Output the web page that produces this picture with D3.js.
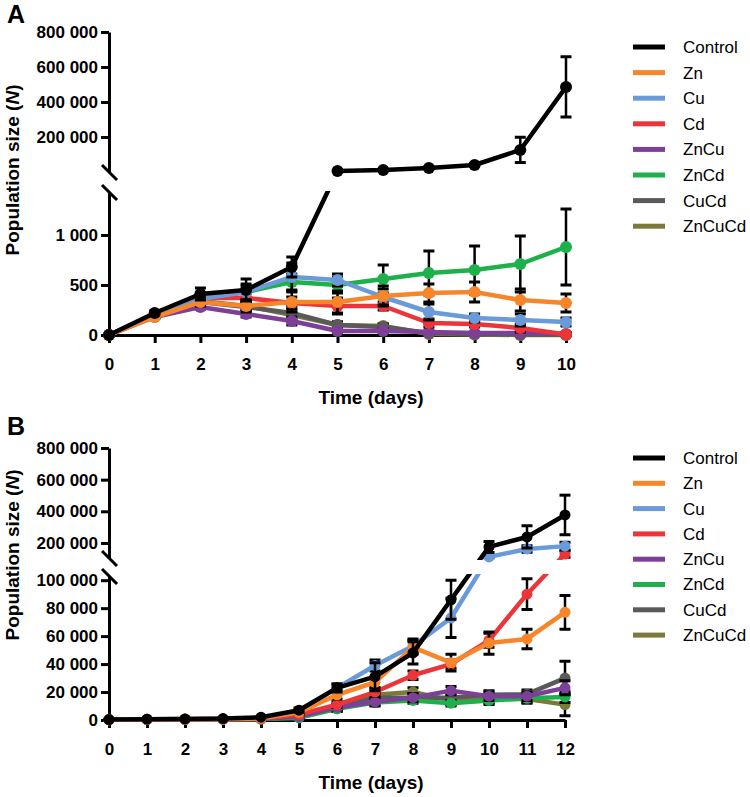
<!DOCTYPE html>
<html><head><meta charset="utf-8">
<script src="https://cdn.jsdelivr.net/npm/d3@7"></script>
<style>body{margin:0;background:#fff}svg{display:block}</style>
</head><body><svg id="c" width="750" height="797"></svg>
<script>
// ---------- DATA ----------
const seriesNames = ["Control","Zn","Cu","Cd","ZnCu","ZnCd","CuCd","ZnCuCd"];
const seriesColors = ["#000000","#F7862A","#6A9BD8","#EC3539","#7E3F98","#1DB04B","#5A5A5A","#7A7B3A"];

const daysA = [0,1,2,3,4,5,6,7,8,9,10];
const controlA = [0,220,410,450,680,6000,11000,23000,40000,126000,486000];
const znA      = [0,180,330,290,330,330,390,420,430,350,320];
const cuA      = [0,200,360,430,580,550,380,230,170,150,130];
const cdA      = [0,190,370,370,320,290,290,120,110,70,5];
const znCuA    = [0,180,280,210,140,40,40,30,20,20,10];
const znCdA    = [0,200,360,430,530,500,560,620,650,710,880];
const cuCdA    = [0,200,330,280,220,100,80,20,10,5,5];
const znCuCdA  = [0,200,340,290,200,100,90,10,5,0,0];

const errControlA = [0,20,60,110,100,3000,4000,5000,6000,72000,172000];
const errZnA      = [0,15,40,60,100,110,100,90,100,110,90];
const errCuA      = [0,20,40,80,140,60,80,80,40,60,40];
const errCdA      = [0,10,30,50,60,80,40,40,30,40,20];
const errZnCuA    = [0,10,20,30,40,20,20,10,10,10,5];
const errZnCdA    = [0,20,40,60,80,80,140,220,240,280,380];
const errCuCdA    = [0,10,30,40,70,30,30,10,10,5,5];
const errZnCuCdA  = [0,10,30,40,60,30,20,10,5,0,0];

const daysB = [0,1,2,3,4,5,6,7,8,9,10,11,12];
const controlB = [300,600,800,1000,2000,7000,23000,31000,48000,86000,175000,238000,377000];
const znB      = [300,500,700,800,1200,5500,18000,27000,52000,41000,55000,58000,77000];
const cuB      = [300,500,700,800,1300,6000,23000,39000,53000,73000,112000,162000,180000];
const cdB      = [300,500,600,700,900,4000,11000,20000,32000,40000,57000,90000,130000];
const znCuB    = [200,400,500,600,800,2500,9000,13000,16000,21000,17000,17000,23000];
const znCdB    = [200,400,500,600,700,1500,8000,12500,14000,12000,14000,15500,16500];
const cuCdB    = [200,400,500,600,800,2500,9000,16000,16000,16000,18000,18500,30000];
const znCuCdB  = [200,400,500,600,800,2500,8000,18000,20000,14000,15000,15000,11000];

const errControlB = [100,100,200,200,300,1500,3000,10000,8000,14000,35000,70000,125000];
const errZnB      = [0,0,0,0,200,1000,3000,4000,5000,6000,8000,7000,12000];
const errCuB      = [0,0,0,0,200,1000,2000,4000,5000,14000,6000,20000,25000];
const errCdB      = [0,0,0,0,100,800,2000,3000,3000,3000,5000,11000,20000];
const errZnCuB    = [0,0,0,0,100,500,2000,3000,3000,3000,3000,3000,5000];
const errZnCdB    = [0,0,0,0,100,500,2000,2000,2000,2000,3000,3000,4000];
const errCuCdB    = [0,0,0,0,100,500,2000,3000,3000,3000,3000,3000,12000];
const errZnCuCdB  = [0,0,0,0,100,500,2000,3000,3000,3000,3000,3000,8000];

const yTicksLowA = [0,500,1000];
const yTicksHighA = [200000,400000,600000,800000];
const yTicksLowB = [0,20000,40000,60000,80000,100000];
const yTicksHighB = [200000,400000,600000,800000];

// ---------- DRAW ----------
const svg = d3.select("#c");
const fmt = v => d3.format(",")(v).replace(/,/g, " ");
const FONT = "'Liberation Sans', Arial, Helvetica, sans-serif";

function drawPanel(cfg){
  const g = svg.append("g");
  const x = d3.scaleLinear().domain([0, d3.max(cfg.days)]).range(cfg.xRange);
  const yLow = d3.scaleLinear().domain(cfg.lowDomain).range(cfg.lowRange);
  const yHigh = d3.scaleLinear().domain(cfg.highDomain).range(cfg.highRange);
  const ymap = v => v <= cfg.lowDomain[1] ? yLow(v) : yHigh(v);

  const clipId = "clip" + cfg.id;
  const cp = svg.append("defs").append("clipPath").attr("id", clipId);
  cp.append("rect").attr("x",0).attr("y",0).attr("width",750).attr("height",cfg.gap[0]);
  cp.append("rect").attr("x",0).attr("y",cfg.gap[1]).attr("width",750).attr("height",797-cfg.gap[1]);

  // axes
  const axStyle = sel => {
    sel.selectAll("path.domain").attr("stroke","#000").attr("stroke-width",3);
    sel.selectAll(".tick line").attr("stroke","#000").attr("stroke-width",3);
    sel.selectAll(".tick text").attr("fill","#000").style("font-family",FONT)
      .style("font-size","17px").style("font-weight","bold");
  };
  const x0 = cfg.xRange[0];
  g.append("g").attr("transform",`translate(${x0},0)`)
    .call(d3.axisLeft(yLow).tickValues(cfg.lowTicks).tickFormat(fmt).tickSize(8).tickSizeOuter(0).tickPadding(3))
    .call(axStyle);
  g.append("g").attr("transform",`translate(${x0},0)`)
    .call(d3.axisLeft(yHigh).tickValues(cfg.highTicks).tickFormat(fmt).tickSize(8).tickSizeOuter(0).tickPadding(3))
    .call(axStyle);
  g.append("g").attr("transform",`translate(0,${cfg.lowRange[0]})`)
    .call(d3.axisBottom(x).tickValues(cfg.days).tickFormat(d3.format("d")).tickSize(8).tickSizeOuter(0).tickPadding(15))
    .call(axStyle);

  // break slashes
  [cfg.highRange[0], cfg.lowRange[1]].forEach(yy => {
    g.append("line").attr("x1",x0-7).attr("y1",yy-7).attr("x2",x0+8).attr("y2",yy+8)
      .attr("stroke","#000").attr("stroke-width",3);
  });

  // series (drawn last legend entry first)
  for (let i = cfg.series.length - 1; i >= 0; i--) {
    const vals = cfg.series[i], errs = cfg.errors[i], col = seriesColors[i];
    const pts = cfg.days.map((d,k) => ({d, v: vals[k], e: errs[k]}));
    const sg = g.append("g");
    const cg = sg.append("g").attr("clip-path", `url(#${clipId})`);
    pts.filter(p => p.e > 0).forEach(p => {
      const xx = x(p.d), yt = ymap(p.v + p.e), yb = ymap(Math.max(0, p.v - p.e));
      cg.append("line").attr("x1",xx).attr("x2",xx).attr("y1",yt).attr("y2",yb)
        .attr("stroke","#000").attr("stroke-width",2.5);
      [yt,yb].forEach(yy => cg.append("line").attr("x1",xx-5.5).attr("x2",xx+5.5)
        .attr("y1",yy).attr("y2",yy).attr("stroke","#000").attr("stroke-width",3));
    });
    cg.append("path").datum(pts)
      .attr("d", d3.line().x(p => x(p.d)).y(p => ymap(p.v)))
      .attr("fill","none").attr("stroke",col).attr("stroke-width",4.5).attr("stroke-linejoin","round");
    sg.selectAll("circle").data(pts).join("circle")
      .attr("cx", p => x(p.d)).attr("cy", p => ymap(p.v)).attr("r", cfg.r).attr("fill", col);
  }

  // titles
  g.append("text").attr("x", cfg.xTitle[0]).attr("y", cfg.xTitle[1]).attr("text-anchor","middle")
    .style("font-family",FONT).style("font-size","19px").style("font-weight","bold").text("Time (days)");
  const yt = g.append("text").attr("transform",`translate(${cfg.yTitle[0]},${cfg.yTitle[1]}) rotate(-90)`)
    .attr("text-anchor","middle").style("font-family",FONT).style("font-size","19px").style("font-weight","bold");
  yt.append("tspan").text("Population size (");
  yt.append("tspan").style("font-style","italic").text("N");
  yt.append("tspan").text(")");
  g.append("text").attr("x", cfg.letter[0]).attr("y", cfg.letter[1])
    .style("font-family",FONT).style("font-size","25px").style("font-weight","bold").text(cfg.id);

  // legend
  const lg = g.append("g");
  seriesNames.forEach((n,i) => {
    const yy = cfg.legendY + i * cfg.legendStep;
    lg.append("line").attr("x1",633).attr("x2",665).attr("y1",yy).attr("y2",yy)
      .attr("stroke",seriesColors[i]).attr("stroke-width",5);
    lg.append("text").attr("x",683).attr("y",yy).attr("dy","0.35em")
      .style("font-family",FONT).style("font-size","17px").text(n);
  });
}

drawPanel({
  id:"A", days: daysA, xRange:[109,566],
  lowDomain:[0,1430], lowRange:[335,192],
  highDomain:[0,800000], highRange:[172,32],
  gap:[175,191], lowTicks:yTicksLowA, highTicks:yTicksHighA,
  series:[controlA,znA,cuA,cdA,znCuA,znCdA,cuCdA,znCuCdA],
  errors:[errControlA,errZnA,errCuA,errCdA,errZnCuA,errZnCdA,errCuCdA,errZnCuCdA],
  r:6, xTitle:[371,404], yTitle:[19,170], letter:[7,23], legendY:47, legendStep:25.6
});
drawPanel({
  id:"B", days: daysB, xRange:[109,565],
  lowDomain:[0,103000], lowRange:[720,576],
  highDomain:[105000,800000], highRange:[558,448],
  gap:[560,574], lowTicks:yTicksLowB, highTicks:yTicksHighB,
  series:[controlB,znB,cuB,cdB,znCuB,znCdB,cuCdB,znCuCdB],
  errors:[errControlB,errZnB,errCuB,errCdB,errZnCuB,errZnCdB,errCuCdB,errZnCuCdB],
  r:5.5, xTitle:[371,789], yTitle:[19,555], letter:[7,435], legendY:458, legendStep:25.3
});
</script></body></html>
